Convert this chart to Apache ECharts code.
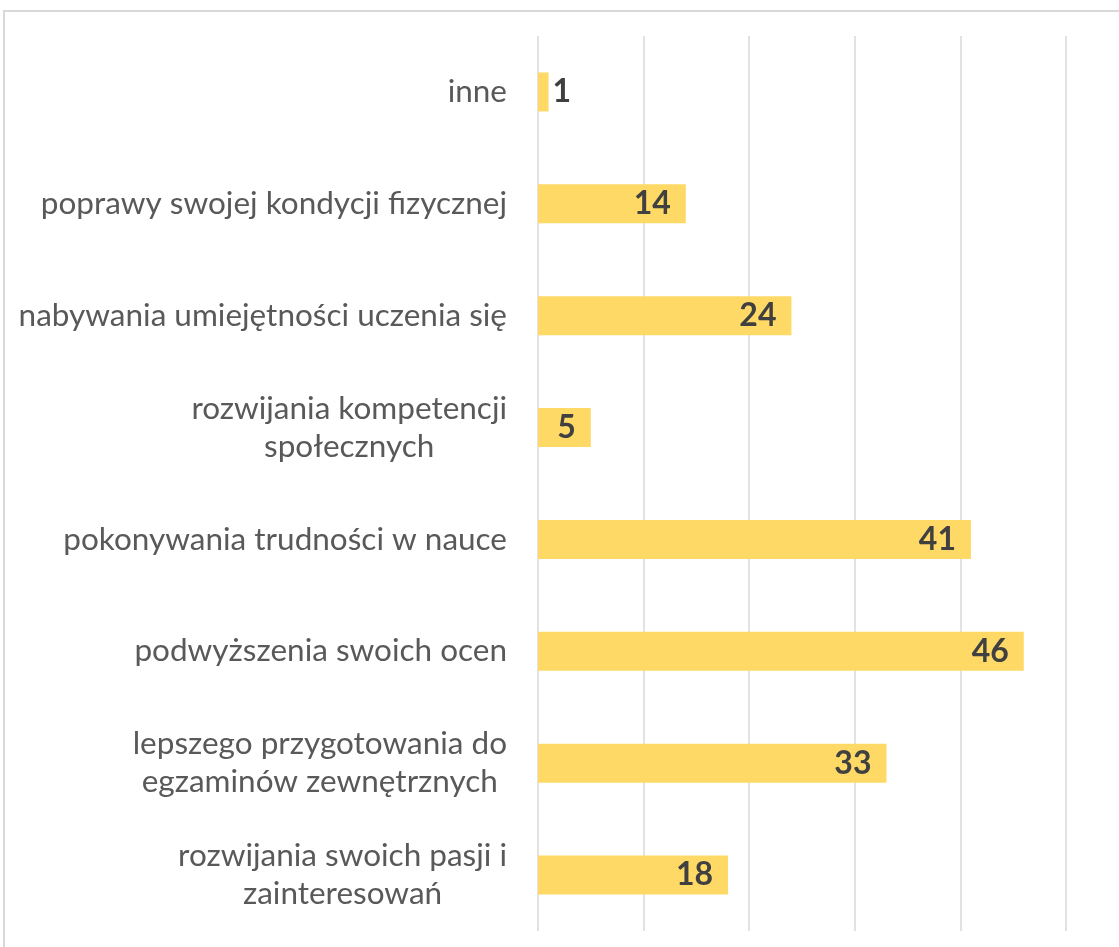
<!DOCTYPE html>
<html>
<head>
<meta charset="utf-8">
<script src="https://cdn.jsdelivr.net/npm/echarts@6/dist/echarts.min.js"></script>
<style>
  html, body { margin: 0; padding: 0; background: #fff; overflow: hidden; }
  #main { width: 1119px; height: 947px; }
</style>
</head>
<body>
<div id="main"></div>
<script>
var categories = [
  'inne',
  'poprawy swojej kondycji fizycznej',
  'nabywania umiejętności uczenia się',
  'rozwijania kompetencji\nspołecznych',
  'pokonywania trudności w nauce',
  'podwyższenia swoich ocen',
  'lepszego przygotowania do\negzaminów zewnętrznych',
  'rozwijania swoich pasji i\nzainteresowań'
];
var values = [1, 14, 24, 5, 41, 46, 33, 18];

var myChart = echarts.init(document.getElementById('main'));

// small bars get their label outside, like in Excel
var barData = values.map(function (v) {
  if (v < 3) {
    return { value: v, label: { position: 'right', distance: 4 } };
  }
  return v;
});

var option = {
  animation: false,
  graphic: [{
    type: 'rect',
    shape: { x: 4, y: 11, width: 1300, height: 1100 },
    style: { fill: 'none', stroke: '#d9d9d9', lineWidth: 2 }
  }],
  grid: { left: 538, right: 53, top: 36, bottom: 16 },
  xAxis: {
    type: 'value',
    min: 0,
    max: 50,
    interval: 10,
    axisLabel: { show: false },
    axisLine: { show: false },
    axisTick: { show: false },
    splitLine: { lineStyle: { color: '#d9d9d9', width: 1.5 } }
  },
  yAxis: {
    type: 'category',
    inverse: true,
    data: categories,
    axisLine: { show: false },
    axisTick: { show: false },
    axisLabel: {
      margin: 31,
      color: '#595959',
      fontFamily: 'Lato',
      fontSize: 31.5,
      formatter: function (val) {
        return val.split('\n').map(function (l) { return '{c|' + l + '}'; }).join('\n');
      },
      rich: {
        c: { align: 'center', color: '#595959', fontFamily: 'Lato', fontSize: 31.5, lineHeight: 38 }
      }
    }
  },
  series: [{
    type: 'bar',
    data: barData,
    barWidth: 39,
    itemStyle: { color: '#FFD966' },
    label: {
      show: true,
      position: 'insideRight',
      distance: 15,
      color: '#404040',
      fontFamily: 'Lato',
      fontWeight: 'bold',
      fontSize: 32
    }
  }]
};

myChart.setOption(option);
</script>
</body>
</html>
